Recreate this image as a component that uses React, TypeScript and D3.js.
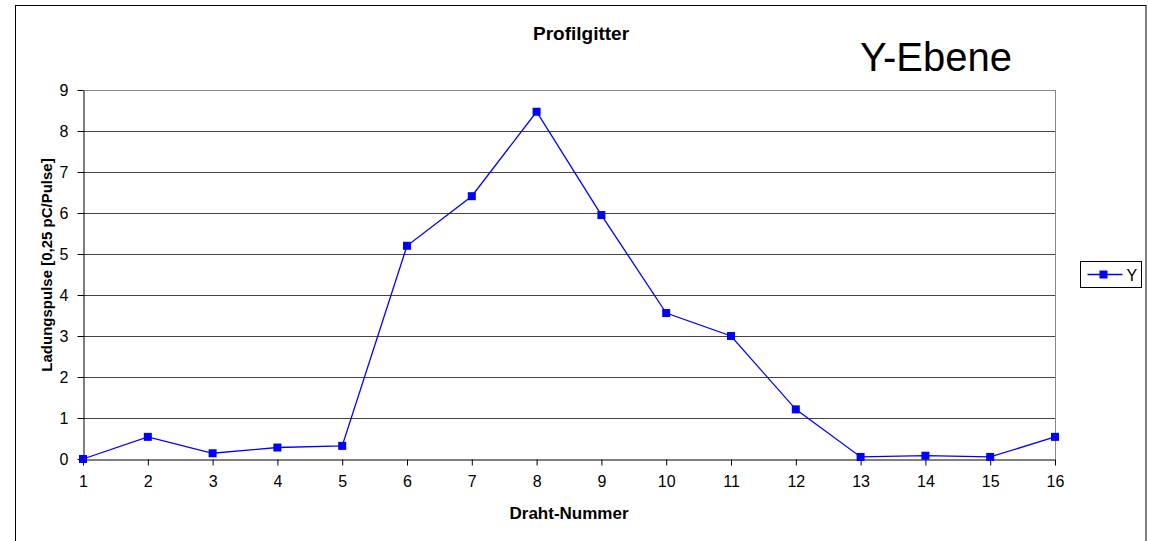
// @ts-nocheck
import * as d3 from "d3";
import { useEffect, useRef } from "react";

const W = 1149;
const H = 541;
const margin = { top: 90, right: 94, bottom: 82, left: 83 };

// Draht-Nummer
const wires = [1, 2, 3, 4, 5, 6, 7, 8, 9, 10, 11, 12, 13, 14, 15, 16];
// Ladungspulse, Serie "Y"
const yValues = [0.0, 0.54, 0.14, 0.28, 0.32, 5.2, 6.41, 8.47, 5.95, 3.56, 3.0, 1.21, 0.05, 0.08, 0.05, 0.54];
const yTicks = [0, 1, 2, 3, 4, 5, 6, 7, 8, 9];

const font = "Arial, 'Liberation Sans', sans-serif";

export default function App() {
  const gx = useRef<SVGGElement>(null);
  const gy = useRef<SVGGElement>(null);

  const x = d3.scaleLinear([1, 16], [margin.left, W - margin.right]);
  const y = d3.scaleLinear([0, 9], [H - margin.bottom, margin.top]);
  const line = d3.line<number>((d, i) => x(wires[i]), d => y(d));

  useEffect(() => {
    const ax = d3.select(gx.current).call(
      d3.axisBottom(x).tickValues(wires).tickSize(6).tickSizeOuter(0).tickPadding(10).tickFormat(d3.format("d"))
    );
    ax.select(".domain").attr("stroke", "#000");
    ax.selectAll("text").attr("font-size", 16).attr("font-family", font).attr("fill", "#000");

    const ay = d3.select(gy.current).call(
      d3.axisLeft(y).tickValues(yTicks).tickSize(6).tickSizeOuter(0).tickPadding(9)
    );
    ay.select(".domain").attr("stroke", "#000");
    ay.selectAll("text").attr("font-size", 16).attr("font-family", font).attr("fill", "#000");
  }, []);

  return (
    <svg width={W} height={H} style={{ position: "absolute", left: 0, top: 0 }} fontFamily={font}>
      <rect x={0} y={0} width={W} height={H} fill="#fff" />
      <rect x={15.5} y={5.5} width={1130.5} height={560} fill="none" stroke="#000" strokeWidth={1} />

      {yTicks.slice(1).map(t => (
        <line key={t} x1={x(1)} x2={x(16)} y1={Math.round(y(t)) + 0.5} y2={Math.round(y(t)) + 0.5}
          stroke={t === 9 ? "#888" : "#444"} strokeWidth={1} />
      ))}
      <line x1={Math.round(x(16)) + 0.5} x2={Math.round(x(16)) + 0.5} y1={y(9)} y2={y(0)} stroke="#888" />

      <g ref={gx} transform={`translate(0,${Math.round(y(0)) + 0.5})`} />
      <g ref={gy} transform={`translate(${Math.round(x(1)) + 0.5},0)`} />

      <path d={line(yValues)} fill="none" stroke="#0000ff" strokeWidth={1.3} />
      {yValues.map((v, i) => (
        <rect key={i} x={x(wires[i]) - 4} y={y(v) - 4} width={8} height={8} fill="#0000ff" />
      ))}

      <text x={581} y={40} textAnchor="middle" fontSize={19} fontWeight="bold">Profilgitter</text>
      <text x={936} y={71} textAnchor="middle" fontSize={40}>Y-Ebene</text>
      <text x={569} y={519} textAnchor="middle" fontSize={17} fontWeight="bold">Draht-Nummer</text>
      <text transform="translate(52,265) rotate(-90)" textAnchor="middle" fontSize={15} fontWeight="bold">
        Ladungspulse [0,25 pC/Pulse]
      </text>

      <g transform="translate(1080.5,261.5)">
        <rect width={61} height={26} fill="#fff" stroke="#000" />
        <line x1={7} x2={42} y1={13} y2={13} stroke="#0000ff" strokeWidth={1.3} />
        <rect x={19} y={9} width={8} height={8} fill="#0000ff" />
        <text x={46} y={19} fontSize={16}>Y</text>
      </g>
    </svg>
  );
}
